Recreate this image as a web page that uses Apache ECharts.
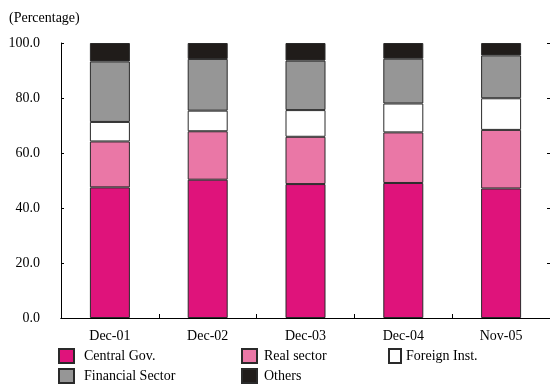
<!DOCTYPE html>
<html>
<head>
<meta charset="utf-8">
<script src="https://cdn.jsdelivr.net/npm/echarts@6/dist/echarts.min.js"></script>
<style>
html,body{margin:0;padding:0;background:#fff;}
#chart{width:550px;height:385px;}
</style>
</head>
<body>
<div id="chart"></div>
<script>
var categories = ['Dec-01', 'Dec-02', 'Dec-03', 'Dec-04', 'Nov-05'];
var centralGov = [47.5, 50.3, 48.7, 49.1, 47.1];
var realSector = [16.7, 17.6, 17.2, 18.4, 21.3];
var foreignInst = [7.1, 7.5, 9.7, 10.5, 11.5];
var financialSector = [22.0, 18.8, 18.0, 16.3, 15.6];
var others = [6.7, 5.8, 6.4, 5.7, 4.5];
var yTicks = [0, 20, 40, 60, 80, 100];

var FONT = '"Liberation Serif", "DejaVu Serif", serif';
var chart = echarts.init(document.getElementById('chart'), null, {renderer: 'canvas'});

function mk(name, data, color) {
  return {
    name: name, type: 'bar', stack: 'total', data: data, barWidth: 40,
    itemStyle: {color: color, borderColor: '#2a2a2a', borderWidth: 1},
    emphasis: {disabled: true}
  };
}
function lg(name, left, top, w, gap) {
  return {
    data: [name], left: left, top: top, orient: 'horizontal',
    itemWidth: w, itemHeight: 14, icon: 'rect', selectedMode: false,
    textStyle: {fontFamily: FONT, fontSize: 14, color: '#000', padding: [7, 0, 0, gap]}
  };
}

chart.setOption({
  animation: false,
  backgroundColor: '#fff',
  title: {
    text: '(Percentage)', left: 4, top: 6,
    textStyle: {fontFamily: FONT, fontSize: 14, fontWeight: 'normal', color: '#000'}
  },
  grid: {left: 61, right: -1, top: 43, bottom: 67, containLabel: false},
  legend: [
    lg('Central Gov.', 53, 343, 15, 5),
    lg('Real sector', 236, 343, 15, 2),
    lg('Foreign Inst.', 383, 343, 12, 0),
    lg('Financial Sector', 53, 363, 15, 5),
    lg('Others', 236, 363, 15, 2)
  ],
  xAxis: [{
    type: 'category', data: categories, position: 'bottom',
    axisLine: {show: true, lineStyle: {color: '#000', width: 1}},
    axisTick: {show: true, inside: true, length: 4, alignWithLabel: false, lineStyle: {color: '#000'}},
    axisLabel: {fontFamily: FONT, fontSize: 14, color: '#000', margin: 11},
    splitLine: {show: false}
  }, {
    type: 'category', data: categories, position: 'top',
    axisLine: {show: true, lineStyle: {color: '#000', width: 1}},
    axisTick: {show: false}, axisLabel: {show: false}, splitLine: {show: false}
  }],
  yAxis: [{
    type: 'value', min: yTicks[0], max: yTicks[yTicks.length - 1], interval: 20,
    axisLine: {show: true, lineStyle: {color: '#000', width: 1}},
    axisTick: {show: true, inside: true, length: 3, lineStyle: {color: '#000'}},
    axisLabel: {fontFamily: FONT, fontSize: 14, color: '#000', margin: 21,
      formatter: function (v) { return v.toFixed(1); }},
    splitLine: {show: false}
  }, {
    type: 'value', min: yTicks[0], max: yTicks[yTicks.length - 1], interval: 20, position: 'right',
    axisLine: {show: true, lineStyle: {color: '#000', width: 1}},
    axisTick: {show: true, inside: true, length: 3, lineStyle: {color: '#000'}},
    axisLabel: {show: false}, splitLine: {show: false}
  }],
  series: [
    mk('Central Gov.', centralGov, '#DF137B'),
    mk('Real sector', realSector, '#EA77A6'),
    mk('Foreign Inst.', foreignInst, '#FFFFFF'),
    mk('Financial Sector', financialSector, '#969696'),
    mk('Others', others, '#201C1A')
  ]
});
</script>
</body>
</html>
